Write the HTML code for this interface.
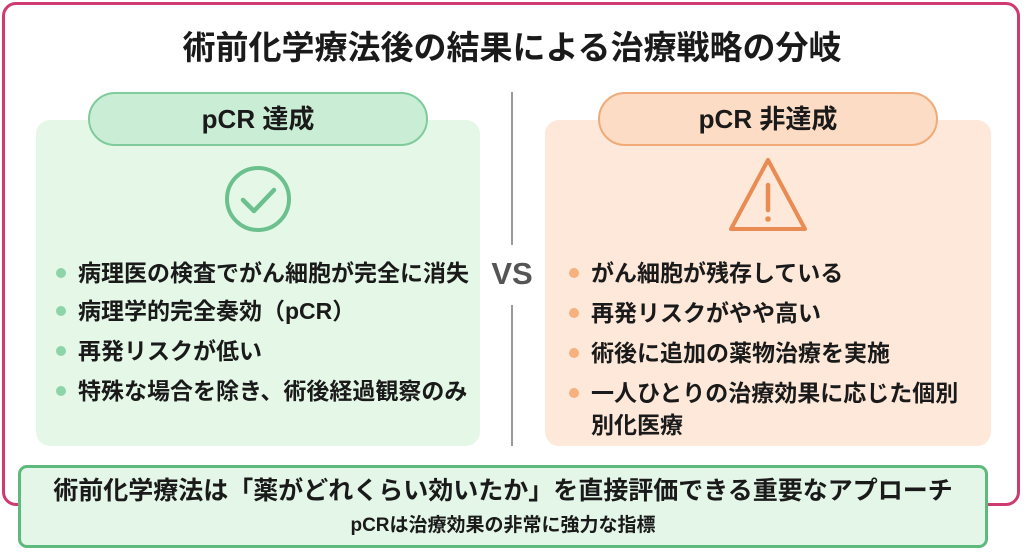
<!DOCTYPE html>
<html><head><meta charset="utf-8"><style>
*{margin:0;padding:0;box-sizing:border-box}
body{width:1024px;height:559px;background:#fff;position:relative;overflow:hidden;font-family:"Liberation Sans","Noto Sans CJK JP",sans-serif;color:#1a1a1a}
.a{position:absolute}
.frame{left:2px;top:2px;width:1018px;height:504px;border:3px solid #cf3a72;border-radius:14px}
.title{left:0;width:1024px;top:28px;text-align:center;font-size:33px;font-weight:bold;line-height:40px}
.panel{top:120px;height:326px;border-radius:14px}
.pill{top:92px;width:340px;height:54px;border-radius:27px;border:2px solid;text-align:center;line-height:50px;font-size:26px;font-weight:bold}
.li{font-size:23px;font-weight:bold;white-space:nowrap;line-height:28px}
.dot{width:10px;height:10px;border-radius:5px}
</style></head><body>
<div class="a frame"></div>
<div class="a title">術前化学療法後の結果による治療戦略の分岐</div>
<div class="a panel" style="left:36px;width:444px;background:#e5f8e8"></div>
<div class="a panel" style="left:545px;width:446px;background:#fde8d9"></div>
<div class="a pill" style="left:88px;background:#c9eed5;border-color:#7fcb9c">pCR 達成</div>
<div class="a pill" style="left:598px;background:#fcdcc4;border-color:#f0aa78">pCR 非達成</div>
<div class="a" style="left:511px;top:92px;width:2px;height:153px;background:#9a9a9a"></div>
<div class="a" style="left:511px;top:305px;width:2px;height:141px;background:#9a9a9a"></div>
<div class="a" style="left:482px;top:256px;width:60px;text-align:center;font-size:31px;font-weight:bold;color:#555">VS</div>
<svg class="a" style="left:0;top:0" width="1024" height="559">
<circle cx="258" cy="199" r="31" fill="none" stroke="#6cc08d" stroke-width="4"/>
<path d="M243 200 L254 211 L274 190" fill="none" stroke="#6cc08d" stroke-width="4.5" stroke-linecap="round" stroke-linejoin="round"/>
<path d="M768 160 L805 229 L731 229 Z" fill="none" stroke="#e98b52" stroke-width="4" stroke-linejoin="round"/>
<line x1="768" y1="185" x2="768" y2="210" stroke="#e98b52" stroke-width="4.5" stroke-linecap="round"/>
<circle cx="768" cy="219" r="2.8" fill="#e98b52"/>
</svg>
<div class="a dot" style="left:56px;top:268px;background:#8fd3a8"></div><div class="a li" style="left:78px;top:259px">病理医の検査でがん細胞が完全に消失</div>
<div class="a dot" style="left:56px;top:306px;background:#8fd3a8"></div><div class="a li" style="left:78px;top:297px">病理学的完全奏効（pCR）</div>
<div class="a dot" style="left:56px;top:346px;background:#8fd3a8"></div><div class="a li" style="left:78px;top:337px">再発リスクが低い</div>
<div class="a dot" style="left:56px;top:386px;background:#8fd3a8"></div><div class="a li" style="left:78px;top:377px">特殊な場合を除き、術後経過観察のみ</div>
<div class="a dot" style="left:569px;top:268px;background:#f5b27f"></div><div class="a li" style="left:591px;top:259px">がん細胞が残存している</div>
<div class="a dot" style="left:569px;top:308px;background:#f5b27f"></div><div class="a li" style="left:591px;top:299px">再発リスクがやや高い</div>
<div class="a dot" style="left:569px;top:348px;background:#f5b27f"></div><div class="a li" style="left:591px;top:339px">術後に追加の薬物治療を実施</div>
<div class="a dot" style="left:569px;top:388px;background:#f5b27f"></div><div class="a li" style="left:591px;top:379px">一人ひとりの治療効果に応じた個別</div>
<div class="a li" style="left:591px;top:411px">別化医療</div>
<div class="a" style="left:18px;top:465px;width:970px;height:83px;background:#e3f6e7;border:3px solid #5db97c;border-radius:9px"></div>
<div class="a" style="left:18px;top:476px;width:970px;text-align:center;font-size:25px;font-weight:bold;line-height:30px">術前化学療法は「薬がどれくらい効いたか」を直接評価できる重要なアプローチ</div>
<div class="a" style="left:18px;top:514px;width:970px;text-align:center;font-size:19px;font-weight:bold;line-height:24px">pCRは治療効果の非常に強力な指標</div>
</body></html>
